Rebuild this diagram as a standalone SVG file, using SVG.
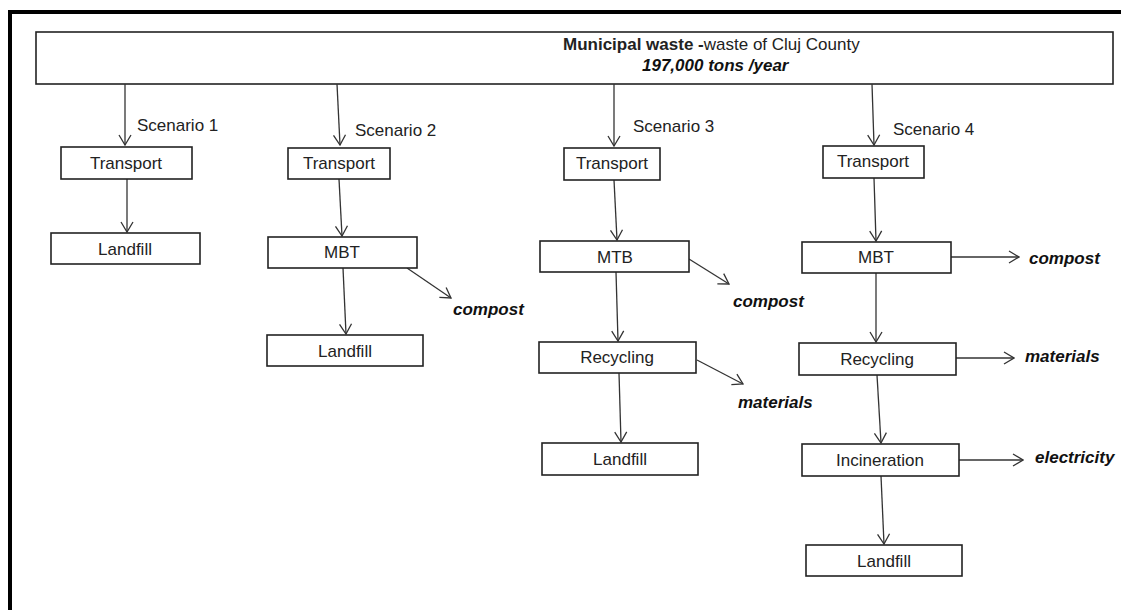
<svg xmlns="http://www.w3.org/2000/svg" width="1121" height="610" viewBox="0 0 1121 610">
<defs>
<marker id="ah" markerUnits="userSpaceOnUse" markerWidth="12" markerHeight="14" refX="10" refY="6" orient="auto" viewBox="-1 -1 12 14">
<path d="M0,0 L10,6 L0,12" fill="none" stroke="#333" stroke-width="1.3"/>
</marker>
<style>
.box{fill:#fff;stroke:#222;stroke-width:1.6}
.t{font-family:"Liberation Sans",Arial,sans-serif;font-size:17px;fill:#222}
.c{text-anchor:middle}
.bi{font-weight:bold;font-style:italic;fill:#111}
.ln{stroke:#333;stroke-width:1.3;fill:none;marker-end:url(#ah)}
</style>
</defs>
<rect width="1121" height="610" fill="#fff"/>
<path d="M10,610 V12 H1121" fill="none" stroke="#000" stroke-width="4"/>
<g id="top">
<rect class="box" x="36" y="32" width="1077" height="52" stroke-width="2"/>
<text class="t" x="563" y="50"><tspan font-weight="bold">Municipal waste -</tspan>waste of Cluj County</text>
<text class="t bi" x="642" y="71">197,000 tons /year</text>
</g>
<g id="connectors">
<line class="ln" x1="125" y1="84" x2="125" y2="145"/>
<line class="ln" x1="337" y1="84" x2="340" y2="145"/>
<line class="ln" x1="614" y1="84" x2="614" y2="146"/>
<line class="ln" x1="872" y1="84" x2="874" y2="145"/>
<line class="ln" x1="127" y1="179" x2="127" y2="232"/>
<line class="ln" x1="339" y1="179" x2="342" y2="236"/>
<line class="ln" x1="407" y1="268" x2="451" y2="298"/>
<line class="ln" x1="343" y1="268" x2="346" y2="334"/>
<line class="ln" x1="614" y1="180" x2="617" y2="240"/>
<line class="ln" x1="689" y1="259" x2="729" y2="284"/>
<line class="ln" x1="616" y1="272" x2="618" y2="341"/>
<line class="ln" x1="697" y1="360" x2="743" y2="384"/>
<line class="ln" x1="619" y1="373" x2="621" y2="442"/>
<line class="ln" x1="874" y1="178" x2="876" y2="241"/>
<line class="ln" x1="951" y1="257" x2="1019" y2="257"/>
<line class="ln" x1="876" y1="273" x2="876" y2="342"/>
<line class="ln" x1="956" y1="358" x2="1014" y2="358"/>
<line class="ln" x1="877" y1="375" x2="881" y2="443"/>
<line class="ln" x1="959" y1="460" x2="1023" y2="460"/>
<line class="ln" x1="881" y1="476" x2="884" y2="544"/>
</g>
<g id="labels">
<text class="t" x="137" y="131">Scenario 1</text>
<text class="t" x="355" y="136">Scenario 2</text>
<text class="t" x="633" y="132">Scenario 3</text>
<text class="t" x="893" y="135">Scenario 4</text>
<text class="t bi" x="453" y="315">compost</text>
<text class="t bi" x="733" y="307">compost</text>
<text class="t bi" x="738" y="408">materials</text>
<text class="t bi" x="1029" y="264">compost</text>
<text class="t bi" x="1025" y="362">materials</text>
<text class="t bi" x="1035" y="463">electricity</text>
</g>
<g id="s1-transport"><rect class="box" x="61" y="147" width="131" height="32"/><text class="t c" x="126" y="169">Transport</text></g>
<g id="s1-landfill"><rect class="box" x="51" y="233" width="149" height="31"/><text class="t c" x="125" y="255">Landfill</text></g>
<g id="s2-transport"><rect class="box" x="288" y="148" width="102" height="31"/><text class="t c" x="339" y="169">Transport</text></g>
<g id="s2-mbt"><rect class="box" x="268" y="237" width="149" height="31"/><text class="t c" x="342" y="258">MBT</text></g>
<g id="s2-landfill"><rect class="box" x="267" y="335" width="156" height="31"/><text class="t c" x="345" y="357">Landfill</text></g>
<g id="s3-transport"><rect class="box" x="564" y="148" width="96" height="32"/><text class="t c" x="612" y="169">Transport</text></g>
<g id="s3-mtb"><rect class="box" x="540" y="241" width="149" height="31"/><text class="t c" x="615" y="263">MTB</text></g>
<g id="s3-recycling"><rect class="box" x="539" y="342" width="157" height="31"/><text class="t c" x="617" y="363">Recycling</text></g>
<g id="s3-landfill"><rect class="box" x="542" y="443" width="156" height="32"/><text class="t c" x="620" y="465">Landfill</text></g>
<g id="s4-transport"><rect class="box" x="823" y="146" width="101" height="32"/><text class="t c" x="873" y="167">Transport</text></g>
<g id="s4-mbt"><rect class="box" x="802" y="242" width="149" height="31"/><text class="t c" x="876" y="263">MBT</text></g>
<g id="s4-recycling"><rect class="box" x="799" y="343" width="157" height="32"/><text class="t c" x="877" y="365">Recycling</text></g>
<g id="s4-incineration"><rect class="box" x="802" y="444" width="157" height="32"/><text class="t c" x="880" y="466">Incineration</text></g>
<g id="s4-landfill"><rect class="box" x="806" y="545" width="156" height="31"/><text class="t c" x="884" y="567">Landfill</text></g>
</svg>
